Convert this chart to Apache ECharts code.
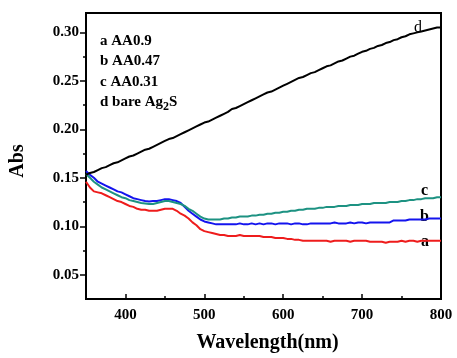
<!DOCTYPE html>
<html>
<head>
<meta charset="utf-8">
<script src="https://cdn.jsdelivr.net/npm/echarts@6/dist/echarts.min.js"></script>
<style>html,body{margin:0;padding:0;background:#fff}#c{width:457px;height:358px}</style>
</head>
<body>
<div id="c"></div>
<script>
const wavelength = [350,355,360,365,370,375,380,385,390,395,400,405,410,415,420,425,430,435,440,445,450,455,460,465,470,475,480,485,490,495,500,505,510,515,520,525,530,535,540,545,550,555,560,565,570,575,580,585,590,595,600,605,610,615,620,625,630,635,640,645,650,655,660,665,670,675,680,685,690,695,700,705,710,715,720,725,730,735,740,745,750,755,760,765,770,775,780,785,790,795,800];

const seriesA = [0.146,0.140,0.136,0.135,0.134,0.132,0.130,0.128,0.126,0.125,0.123,0.121,0.120,0.118,0.117,0.117,0.116,0.116,0.116,0.117,0.118,0.118,0.118,0.116,0.113,0.111,0.108,0.104,0.101,0.097,0.095,0.094,0.093,0.092,0.091,0.091,0.090,0.090,0.090,0.091,0.090,0.090,0.090,0.090,0.090,0.089,0.089,0.089,0.088,0.088,0.088,0.087,0.087,0.086,0.086,0.085,0.085,0.085,0.085,0.085,0.085,0.085,0.084,0.085,0.085,0.085,0.085,0.084,0.085,0.085,0.085,0.085,0.084,0.084,0.084,0.084,0.083,0.084,0.084,0.084,0.085,0.084,0.085,0.085,0.084,0.085,0.085,0.085,0.085,0.085,0.085];

const seriesB = [0.157,0.153,0.150,0.146,0.144,0.142,0.140,0.138,0.136,0.135,0.133,0.131,0.129,0.128,0.127,0.126,0.1255,0.126,0.126,0.127,0.128,0.128,0.127,0.126,0.124,0.120,0.116,0.113,0.110,0.107,0.105,0.104,0.103,0.102,0.102,0.102,0.102,0.102,0.102,0.103,0.102,0.102,0.103,0.102,0.103,0.102,0.103,0.103,0.102,0.103,0.103,0.103,0.102,0.103,0.103,0.102,0.102,0.103,0.103,0.103,0.103,0.103,0.103,0.104,0.103,0.103,0.103,0.104,0.103,0.104,0.104,0.103,0.104,0.104,0.104,0.104,0.104,0.104,0.106,0.106,0.106,0.106,0.107,0.107,0.107,0.107,0.107,0.108,0.108,0.108,0.108];

const seriesC = [0.154,0.150,0.146,0.143,0.140,0.138,0.136,0.134,0.132,0.130,0.129,0.127,0.126,0.125,0.124,0.1235,0.123,0.123,0.124,0.125,0.126,0.126,0.125,0.124,0.123,0.121,0.118,0.116,0.113,0.110,0.108,0.107,0.107,0.107,0.107,0.108,0.108,0.109,0.109,0.110,0.110,0.110,0.111,0.111,0.112,0.112,0.113,0.113,0.114,0.114,0.115,0.115,0.116,0.116,0.117,0.117,0.118,0.118,0.118,0.119,0.119,0.120,0.120,0.120,0.121,0.121,0.121,0.122,0.122,0.122,0.123,0.123,0.123,0.124,0.124,0.124,0.124,0.125,0.125,0.125,0.126,0.126,0.127,0.127,0.128,0.128,0.129,0.129,0.129,0.130,0.130];

const seriesD = [0.153,0.155,0.156,0.158,0.160,0.161,0.163,0.165,0.166,0.168,0.170,0.172,0.173,0.175,0.177,0.179,0.180,0.182,0.184,0.186,0.188,0.190,0.191,0.193,0.195,0.197,0.199,0.201,0.203,0.205,0.207,0.208,0.210,0.212,0.214,0.216,0.218,0.221,0.222,0.224,0.226,0.228,0.230,0.232,0.234,0.236,0.238,0.239,0.241,0.243,0.245,0.247,0.249,0.251,0.253,0.254,0.256,0.258,0.259,0.261,0.263,0.265,0.266,0.268,0.270,0.271,0.273,0.275,0.276,0.278,0.280,0.281,0.283,0.284,0.286,0.287,0.289,0.290,0.292,0.293,0.295,0.296,0.298,0.299,0.300,0.301,0.302,0.303,0.304,0.305,0.305];

const xMajorTicks = [400,500,600,700,800];
const xMinorTicks = [450,550,650,750];
const yMajorTicks = [0.05,0.10,0.15,0.20,0.25,0.30];
const yMinorTicks = [0.075,0.125,0.175,0.225,0.275];

const legendLines = ['a AA0.9','b AA0.47','c AA0.31'];

function pairs(vals){ return wavelength.map((w,i)=>[w, vals[i]]); }

const FONT = '"Liberation Serif","Times New Roman",serif';
const chart = echarts.init(document.getElementById('c'), null, {renderer:'canvas'});

const axLine = {show:true, lineStyle:{color:'#000', width:2}};
chart.setOption({
  animation:false,
  backgroundColor:'#fff',
  grid:{left:83, right:16, top:13, bottom:54, show:true, borderColor:'#000', borderWidth:2, backgroundColor:'transparent'},
  xAxis:[
    {type:'value', min:350, max:800, position:'bottom', axisLine:axLine,
     axisTick:{show:true, inside:true, length:5, customValues:xMajorTicks, lineStyle:{color:'#000', width:1.5}},
     axisLabel:{show:true, customValues:xMajorTicks, margin:9, color:'#000', fontFamily:FONT, fontWeight:'bold', fontSize:15},
     splitLine:{show:false},
     name:'Wavelength(nm)', nameLocation:'middle', nameGap:34,
     nameTextStyle:{color:'#000', fontFamily:FONT, fontWeight:'bold', fontSize:20, padding:[0,0,0,8]}},
    {type:'value', min:350, max:800, position:'bottom', axisLine:{show:false},
     axisTick:{show:true, inside:true, length:3, customValues:xMinorTicks, lineStyle:{color:'#000', width:1.5}},
     axisLabel:{show:false}, splitLine:{show:false}}
  ],
  yAxis:[
    {type:'value', min:0.025, max:0.32, position:'left', axisLine:axLine,
     axisTick:{show:true, inside:false, length:6, customValues:yMajorTicks, lineStyle:{color:'#000', width:1.5}},
     axisLabel:{show:true, customValues:yMajorTicks, margin:7, color:'#000', fontFamily:FONT, fontWeight:'bold', fontSize:15,
       formatter:(v)=>v.toFixed(2)},
     splitLine:{show:false},
     name:'Abs', nameLocation:'middle', nameGap:58, nameRotate:90,
     nameTextStyle:{color:'#000', fontFamily:FONT, fontWeight:'bold', fontSize:20, padding:[0,10,0,0]}},
    {type:'value', min:0.025, max:0.32, position:'left', axisLine:{show:false},
     axisTick:{show:true, inside:false, length:3, customValues:yMinorTicks, lineStyle:{color:'#000', width:1.5}},
     axisLabel:{show:false}, splitLine:{show:false}}
  ],
  series:[
    {name:'a', type:'line', data:pairs(seriesA), showSymbol:false, lineStyle:{color:'#ee1c1c', width:2}, itemStyle:{color:'#ee1c1c'}},
    {name:'b', type:'line', data:pairs(seriesB), showSymbol:false, lineStyle:{color:'#1414ee', width:2}, itemStyle:{color:'#1414ee'}},
    {name:'c', type:'line', data:pairs(seriesC), showSymbol:false, lineStyle:{color:'#1d9282', width:2}, itemStyle:{color:'#1d9282'}},
    {name:'d', type:'line', data:pairs(seriesD), showSymbol:false, lineStyle:{color:'#000', width:2}, itemStyle:{color:'#000'}}
  ],
  graphic:[
    {type:'text', left:100, top:34, style:{text:legendLines[0], fill:'#000', font:'bold 15px '+FONT}},
    {type:'text', left:100, top:54, style:{text:legendLines[1], fill:'#000', font:'bold 15px '+FONT}},
    {type:'text', left:100, top:75, style:{text:legendLines[2], fill:'#000', font:'bold 15px '+FONT}},
    {type:'text', left:100, top:95, style:{text:'{n|d bare Ag}{s|2}{n|S}', fill:'#000',
      rich:{n:{fontFamily:FONT, fontWeight:'bold', fontSize:15, lineHeight:18, verticalAlign:'top'},
            s:{fontFamily:FONT, fontWeight:'bold', fontSize:12, lineHeight:18, padding:[6,0,0,0], verticalAlign:'top'}}}},
    {type:'text', left:414, top:20, style:{text:'d', fill:'#000', font:'16px '+FONT}},
    {type:'text', left:421, top:183, style:{text:'c', fill:'#000', font:'bold 16px '+FONT}},
    {type:'text', left:420, top:209, style:{text:'b', fill:'#000', font:'bold 16px '+FONT}},
    {type:'text', left:421, top:234, style:{text:'a', fill:'#000', font:'bold 16px '+FONT}}
  ]
});
</script>
</body>
</html>
